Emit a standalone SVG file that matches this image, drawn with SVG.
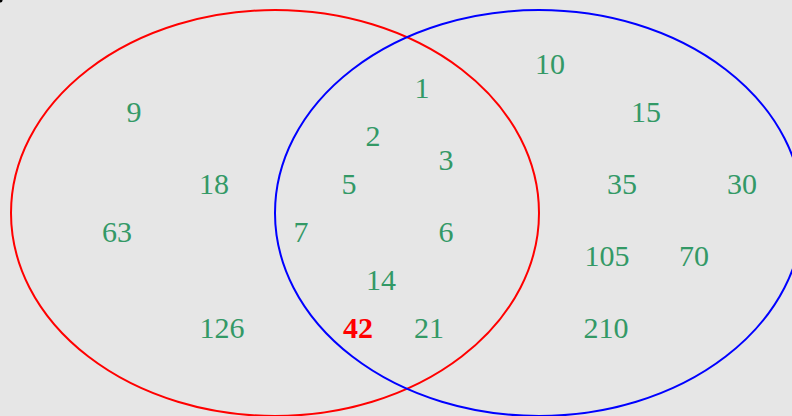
<svg xmlns="http://www.w3.org/2000/svg" width="792" height="416" viewBox="0 0 792 416">
<style>
.t{font-family:"Liberation Serif","Times New Roman",serif;font-size:30px;fill:#339966;text-anchor:middle}
.r{fill:#ff0000;font-weight:bold}
.set{fill:none;stroke-width:2}
</style>
<rect width="792" height="416" fill="#e6e6e6"/>
<circle cx="0.5" cy="0.5" r="2" fill="#000"/>
<g id="setA"><ellipse class="set" cx="275" cy="213" rx="264" ry="203" stroke="#ff0000"/></g>
<g id="setB"><ellipse class="set" cx="539" cy="213" rx="264" ry="203" stroke="#0000ff"/></g>
<g id="labels">
<text class="t" x="134" y="122">9</text>
<text class="t" x="214" y="194">18</text>
<text class="t" x="117" y="242">63</text>
<text class="t" x="222" y="338">126</text>
<text class="t" x="422" y="98">1</text>
<text class="t" x="373" y="146">2</text>
<text class="t" x="446" y="170">3</text>
<text class="t" x="349" y="194">5</text>
<text class="t" x="301" y="242">7</text>
<text class="t" x="446" y="242">6</text>
<text class="t" x="381" y="290">14</text>
<text class="t r" x="358" y="338">42</text>
<text class="t" x="429" y="338">21</text>
<text class="t" x="550" y="74">10</text>
<text class="t" x="646" y="122">15</text>
<text class="t" x="622" y="194">35</text>
<text class="t" x="742" y="194">30</text>
<text class="t" x="607" y="266">105</text>
<text class="t" x="694" y="266">70</text>
<text class="t" x="606" y="338">210</text>
</g>
</svg>
